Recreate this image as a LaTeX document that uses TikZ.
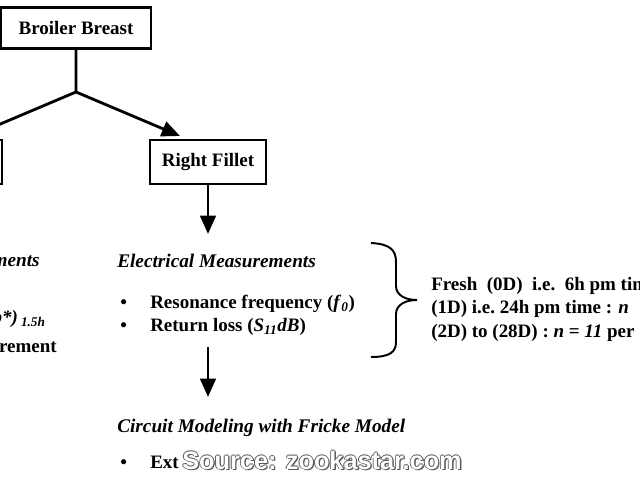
\documentclass[tikz,border=0pt]{standalone}
\usepackage{fontspec}
\setmainfont{Liberation Serif}
\newfontfamily\wmfont{Liberation Sans}
\usetikzlibrary{positioning,arrows.meta,calc}

\tikzset{
  box/.style={draw, line width=1.8pt, minimum width=2.9cm, minimum height=1.1cm, inner sep=0pt,
    font=\fontsize{13.5}{16}\selectfont\bfseries},
  txt/.style={anchor=base west, inner sep=0pt, font=\fontsize{13.5}{16}\selectfont\bfseries},
  head/.style={txt, font=\fontsize{13.7}{16}\selectfont\bfseries\itshape},
  link/.style={line width=2pt},
  flow/.style={link, -{Triangle[width=11pt,length=13pt]}},
  wm/.style={anchor=base west, inner sep=0pt, font=\wmfont\bfseries\fontsize{18}{20}\selectfont},
}

\begin{document}
\begin{tikzpicture}[x=0.025cm, y=-0.025cm]
    \useasboundingbox (0,0) rectangle (640,480);
    \clip (0,0) rectangle (640,480);

    % Sample boxes (left one is cut off by the page edge)
    \node[box, minimum width=3.75cm, minimum height=1.025cm] (breast) at (76,28) {Broiler Breast};
    \node[box] (right) at (208,162) {Right Fillet};
    \node[box] (left) at (-56,162) {};

    % Split from the breast into the two fillets
    \coordinate (split) at (76,92);
    \coordinate (lefttip) at (-28,136);
    \coordinate (righttip) at (180,136);
    \draw[flow] (breast.south) -- (split) -- (righttip);
    \draw[flow] (split) -- (lefttip);

    % Electrical measurements on the right fillet
    \coordinate (electip) at (208,234);
    \draw[flow] (right.south) -- (electip);
    \node[head] (elec) at (117,267) {Electrical Measurements};
    \node[txt] (bulletA) at (120,308) {\textbullet};
    \node[txt] (freq) at (150,308) {Resonance frequency (\textit{f}\textsubscript{\textit{0}})};
    \node[txt] (bulletB) at (120,331) {\textbullet};
    \node[txt] (loss) at (150,331) {Return loss (\textit{S}\textsubscript{\textit{11}}\textit{dB})};

    % Storage days (brace)
    \draw[line width=1.4pt] (371,243) .. controls (390,244) and (396,250) .. (396,262) -- (396,286)
        .. controls (396,295) and (405,300) .. (417,300)
        .. controls (405,300) and (396,305) .. (396,314) -- (396,342)
        .. controls (396,352) and (390,357) .. (371,357);
    \node[txt] (fresh) at (431,290) {Fresh\ \ (0D)\ \ i.e.\ \ 6h pm time};
    \node[txt] (dayone) at (431,313) {(1D) i.e.\ 24h pm time : \textit{n}};
    \node[txt] (days) at (431,337) {(2D) to (28D) : \textit{n} = \textit{11} per};

    % Circuit modeling
    \coordinate (circtop) at (208,347);
    \coordinate (circtip) at (208,397);
    \draw[flow] (circtop) -- (circtip);
    \node[head] (circ) at (117,432) {Circuit Modeling with Fricke Model};
    \node[txt] (bulletC) at (120,468) {\textbullet};
    \node[txt] (ext) at (150,468) {Ext};

    % Left column fragments
    \node[head, anchor=base east] (leftmeas) at (40,266) {ments};
    \node[txt, anchor=base east] (leftcol) at (46,323) {\textit{b*)}\,\textsubscript{\textit{1.5h}}};
    \node[txt, anchor=base east] (leftdrip) at (57,352) {rement};

    % Watermark
    \coordinate (wmpos) at (182,469);
    \foreach \dx/\dy [count=\i] in {-0.9/0, 0.9/0, 0/-0.9, 0/0.9, 1.3/1.3}
        \node[wm, text=black!65] (wmshade\i) at ($(wmpos)+(\dx,\dy)$) {Source: zookastar.com};
    \node[wm, text=white] (wmark) at (wmpos) {Source: zookastar.com};

\end{tikzpicture}
\end{document}
